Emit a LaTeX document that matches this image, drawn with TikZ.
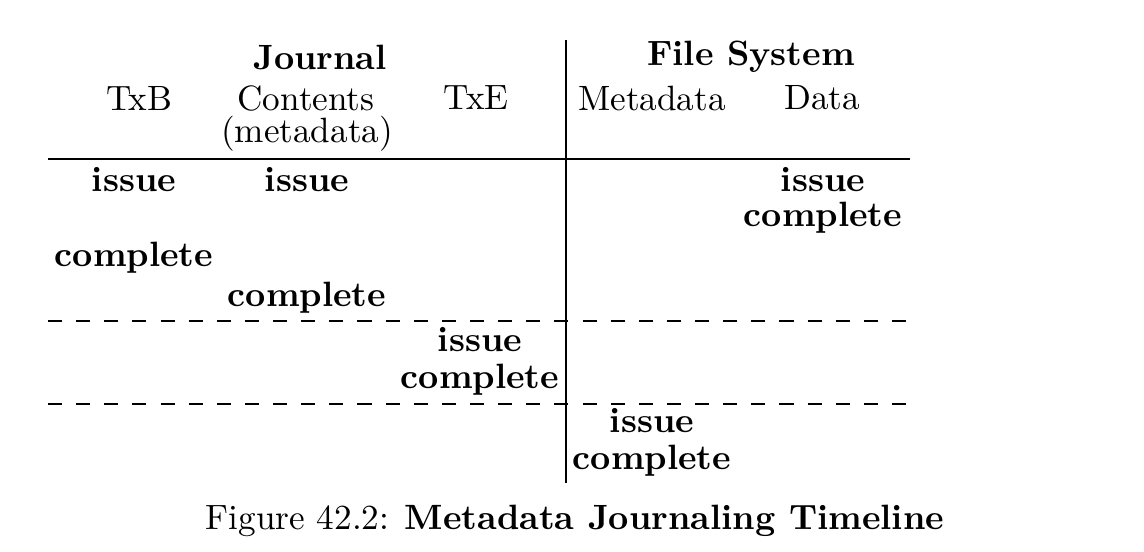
\documentclass[tikz,border=0pt]{standalone}
\usetikzlibrary{positioning}
\tikzset{
  head/.style={font=\bfseries},
  col/.style={},
  ev/.style={font=\bfseries},
  rule/.style={line width=0.4pt},
  cut/.style={dashed, dash pattern=on 4pt off 4pt, line width=0.4pt}
}
\begin{document}
\begin{tikzpicture}[x=0.01cm, y=-0.01cm]
  \useasboundingbox (0,0) rectangle (1144,552);
  % header
  \node[head] (jr) at (320,57) {Journal};
  \node[head] (fs) at (751,57) {File System};
  \node[col] (txb) at (139,98) {TxB};
  \node[col] (cont) at (306,98) {Contents};
  \node[col] (meta) at (307,134) {(metadata)};
  \node[col] (txe) at (476,98) {TxE};
  \node[col] (fsm) at (652,98) {Metadata};
  \node[col] (fsd) at (822,98) {Data};
  % rules
  \coordinate (vtop) at (566,40);
  \coordinate (vbot) at (566,483);
  \draw[rule] (vtop) -- (vbot);
  \coordinate (hl) at (48,159);
  \coordinate (hr) at (910,159);
  \draw[rule] (hl) -- (hr);
  \coordinate (da) at (48,321);
  \coordinate (db) at (910,321);
  \draw[cut] (da) -- (db);
  \coordinate (dc) at (48,404);
  \coordinate (dd) at (910,404);
  \draw[cut] (dc) -- (dd);
  % events
  \node[ev] (b1) at (134,180) {issue};
  \node[ev] (c1) at (307,180) {issue};
  \node[ev] (d1) at (823,180) {issue};
  \node[ev] (d2) at (823,218) {complete};
  \node[ev] (b2) at (134,258) {complete};
  \node[ev] (c2) at (307,298) {complete};
  \node[ev] (e1) at (480,340) {issue};
  \node[ev] (e2) at (480,380) {complete};
  \node[ev] (m1) at (652,421) {issue};
  \node[ev] (m2) at (652,461) {complete};
  % caption
  \node (cap) at (575,521) {Figure 42.2: \textbf{Metadata Journaling Timeline}};
\end{tikzpicture}
\end{document}
